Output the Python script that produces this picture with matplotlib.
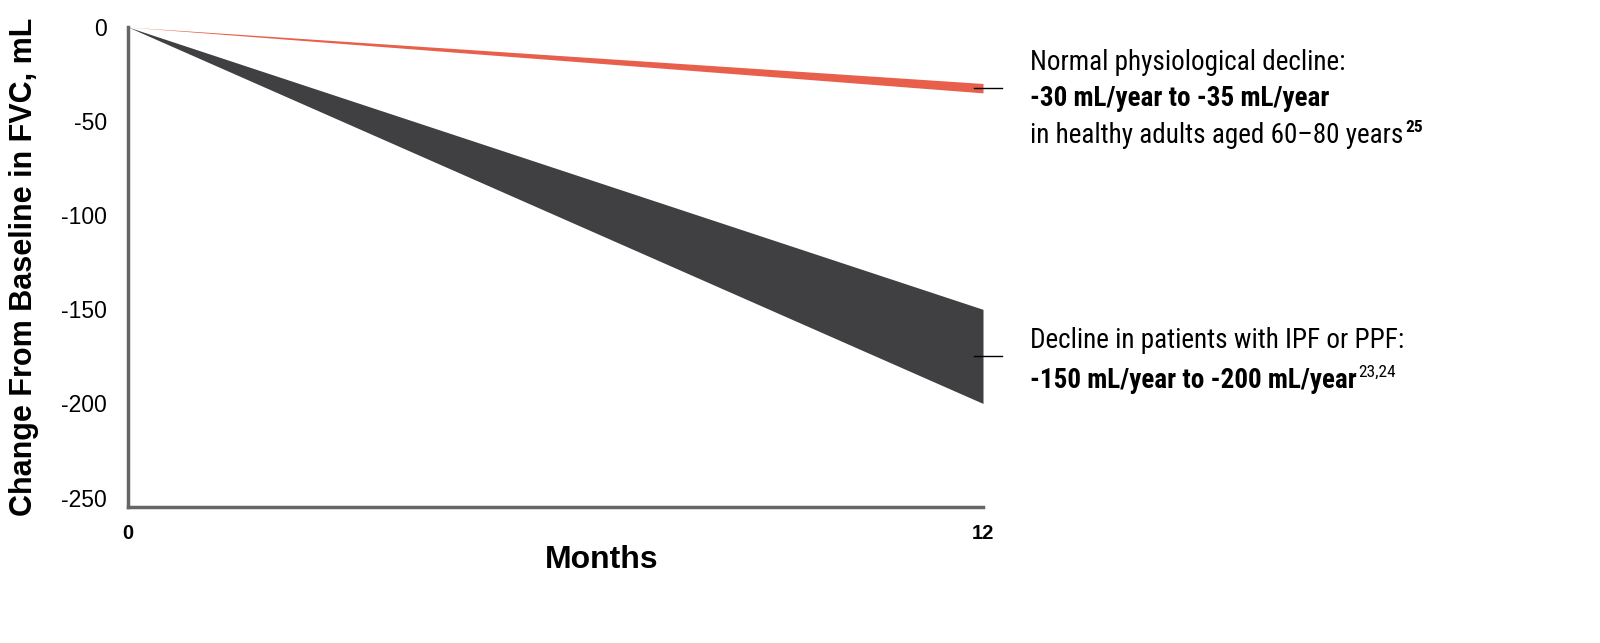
import matplotlib
matplotlib.use('Agg')
from matplotlib import pyplot as plt
from matplotlib import font_manager

# Data
months = [0, 12]
normal_upper = [0, -30]
normal_lower = [0, -35]
ipf_upper = [0, -150]
ipf_lower = [0, -200]
y_ticks = [0, -50, -100, -150, -200, -250]
x_ticks = [0, 12]

# Pick a narrow font for the callout text if one is installed
installed = {f.name for f in font_manager.fontManager.ttflist}
note_font = 'Roboto'
for name in ['Liberation Sans Narrow', 'Roboto Condensed', 'Open Sans Condensed',
             'DejaVu Sans Condensed', 'Noto Sans Condensed']:
    if name in installed:
        note_font = name
        break

plt.rcParams['font.family'] = ['Liberation Sans', 'DejaVu Sans']

fig = plt.figure(figsize=(16, 6.43), dpi=100)
ax = fig.add_axes([128 / 1600, 136 / 643, 855 / 1600, 480 / 643])

red = '#e8604c'
dark = '#404042'
ax.fill_between(months, normal_upper, normal_lower, color=red, linewidth=0, clip_on=False)
ax.fill_between(months, ipf_upper, ipf_lower, color=dark, linewidth=0, clip_on=False)

ax.set_xlim(0, 12)
ax.set_ylim(-255, 0)

for side in ['top', 'right']:
    ax.spines[side].set_visible(False)
for side in ['left', 'bottom']:
    ax.spines[side].set_color('#666666')
    ax.spines[side].set_linewidth(2.5)

ax.set_yticks(y_ticks)
ax.set_yticklabels([str(v) for v in y_ticks], fontsize=16.5)
ax.set_xticks(x_ticks)
ax.set_xticklabels([str(v) for v in x_ticks], fontsize=14.5, fontweight='bold')
ax.tick_params(axis='both', length=0)
ax.tick_params(axis='y', pad=15)
ax.tick_params(axis='x', pad=12)

ax.set_ylabel('Change From Baseline in FVC, mL', fontsize=22, fontweight='bold', labelpad=16)
fig.text(602 / 1600, 1 - 560 / 643, 'Months', fontsize=23, fontweight='bold',
         ha='center', va='center')

# Connector lines
ax.plot([11.87, 12.27], [(normal_upper[1] + normal_lower[1]) / 2] * 2, color='black',
        linewidth=1, clip_on=False)
ax.plot([11.87, 12.27], [(ipf_upper[1] + ipf_lower[1]) / 2] * 2, color='black',
        linewidth=1, clip_on=False)

# Callout text
fig.canvas.draw()
renderer = fig.canvas.get_renderer()
tx = 1030 / 1600


def note(y_px, s, weight='normal', sup=None, sup_weight='normal'):
    t = fig.text(tx, 1 - y_px / 643, s, fontsize=19.5, fontweight=weight,
                 family=note_font, ha='left', va='baseline')
    if sup:
        bb = t.get_window_extent(renderer)
        fig.text(bb.x1 / 1600 + 0.001, 1 - (y_px - 11) / 643, sup, fontsize=12.5,
                 fontweight=sup_weight, family=note_font, ha='left', va='baseline')


note(70, 'Normal physiological decline:')
note(106, '-30 mL/year to -35 mL/year', weight='bold')
note(143, 'in healthy adults aged 60\u201380 years', sup='25', sup_weight='bold')
note(348, 'Decline in patients with IPF or PPF:')
note(388, '-150 mL/year to -200 mL/year', weight='bold', sup='23,24')

fig.savefig('out.png', dpi=100)
